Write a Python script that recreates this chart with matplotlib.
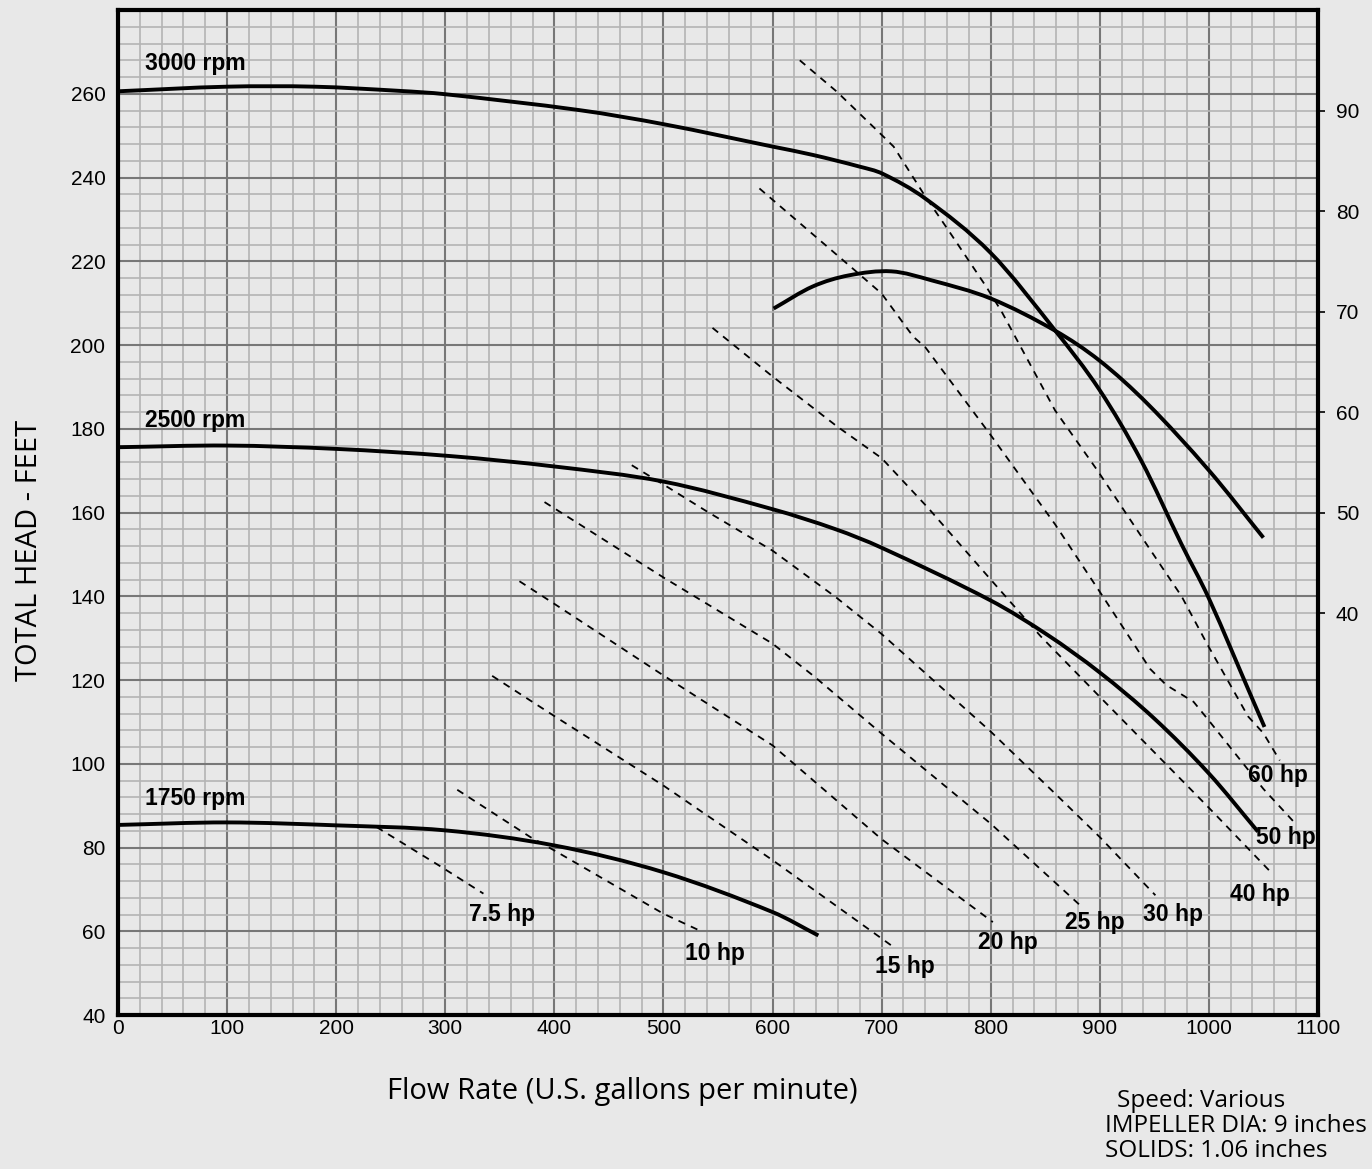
import matplotlib
matplotlib.use("Agg")
import matplotlib.pyplot as plt
from matplotlib.path import Path
from matplotlib.patches import PathPatch
from matplotlib.ticker import MultipleLocator, FixedLocator

# head curves (gpm, feet)
rpm3000_q = [0, 100, 180, 258, 300, 423, 501, 600, 637, 680, 701, 740, 800, 859, 900, 938, 975, 1000, 1041, 1051]
rpm3000_h = [260.6, 261.7, 261.7, 260.7, 259.9, 256.1, 252.7, 247.4, 245.4, 242.6, 240.9, 235.0, 222.0, 203.5, 189.2, 172.4, 152.4, 139.5, 114.8, 108.8]

rpm2500_q = [0, 100, 200, 304, 400, 500, 600, 658, 700, 800, 852, 900, 950, 1000, 1045]
rpm2500_h = [175.6, 176.0, 175.2, 173.5, 171.0, 167.4, 160.8, 156.0, 151.6, 139.0, 130.8, 121.8, 110.8, 97.7, 83.8]

rpm1750_q = [0, 100, 200, 300, 400, 500, 600, 642]
rpm1750_h = [85.4, 86.0, 85.3, 84.1, 80.5, 74.1, 64.6, 59.0]

# efficiency (right axis, %)
eff_q = [601, 637, 670, 709, 746, 800, 859, 900, 944, 1000, 1050]
eff_pct = [70.3, 72.5, 73.6, 74.0, 73.1, 71.3, 68.1, 65.1, 60.8, 54.2, 47.5]

# horsepower lines
hp_lines = {
    "7.5 hp": ([237, 295, 335], [84.9, 75.6, 69.0]),
    "10 hp": ([311, 378, 400, 500, 533], [93.8, 82.5, 79.3, 64.2, 60.2]),
    "15 hp": ([343, 400, 500, 600, 709], [121.0, 111.4, 94.8, 77.0, 56.6]),
    "20 hp": ([368, 400, 500, 600, 700, 802], [143.6, 138.2, 121.1, 104.4, 82.0, 62.2]),
    "25 hp": ([391, 500, 600, 639, 700, 800, 882], [162.5, 144.5, 128.7, 120.7, 107.2, 85.7, 66.2]),
    "30 hp": ([471, 500, 539, 600, 658, 700, 800, 859, 900, 951],
              [171.3, 166.7, 160.4, 150.9, 139.8, 131.0, 107.7, 92.9, 82.5, 68.6]),
    "40 hp": ([545, 600, 659, 700, 743, 800, 846, 900, 1000, 1058],
              [204.1, 192.5, 180.6, 173.0, 161.0, 144.0, 130.4, 116.0, 89.5, 73.8]),
    "50 hp": ([588, 677, 700, 729, 740, 800, 859, 904, 946, 961, 986, 1001, 1050, 1078],
              [237.4, 217.5, 212.3, 202.0, 199.5, 178.5, 157.2, 139.5, 122.7, 118.8, 114.8, 110.0, 94.0, 86.1]),
    "60 hp": ([625, 659, 700, 711, 740, 761, 796, 810, 859, 898, 944, 975, 998, 1036, 1050, 1065],
              [268.0, 260.5, 250.2, 247.4, 235.5, 227.5, 213.9, 208.0, 184.4, 170.0, 152.0, 140.0, 128.8, 111.3, 107.3, 100.8]),
}

# label anchors (left edge, centre)
rpm_labels = [("3000 rpm", 25, 267.2), ("2500 rpm", 25, 181.9), ("1750 rpm", 25, 91.6)]
hp_label_pos = {
    "7.5 hp": (322, 64.1), "10 hp": (520, 54.6), "15 hp": (694, 51.5),
    "20 hp": (788, 57.4), "25 hp": (868, 62.0), "30 hp": (940, 63.9),
    "40 hp": (1019, 68.9), "50 hp": (1043, 82.3), "60 hp": (1036, 97.3),
}
notes = ["Speed: Various", "IMPELLER DIA: 9 inches", "SOLIDS: 1.06 inches"]

bg = "#e8e8e8"
helv = ["Liberation Sans", "DejaVu Sans"]
opens = ["Open Sans", "DejaVu Sans"]


def smooth_curve(axis, xs, ys):
    # cubic hermite bezier through the read points (x increasing)
    n = len(xs)
    slopes = []
    for i in range(n):
        a = max(i - 1, 0)
        b = min(i + 1, n - 1)
        slopes.append((ys[b] - ys[a]) / (xs[b] - xs[a]))
    verts = [(xs[0], ys[0])]
    codes = [Path.MOVETO]
    for i in range(n - 1):
        dx = (xs[i + 1] - xs[i]) / 3
        verts += [(xs[i] + dx, ys[i] + slopes[i] * dx),
                  (xs[i + 1] - dx, ys[i + 1] - slopes[i + 1] * dx),
                  (xs[i + 1], ys[i + 1])]
        codes += [Path.CURVE4] * 3
    patch = PathPatch(Path(verts, codes), facecolor="none", edgecolor="black",
                      lw=2.8, capstyle="butt", transform=axis.transData)
    axis.add_patch(patch)


fig = plt.figure(figsize=(13.72, 11.69), dpi=100, facecolor=bg)
ax = fig.add_axes([0.086, 0.1317, 0.8746, 0.8597])
ax.set_facecolor(bg)

ax.set_xlim(0, 1100)
ax.set_ylim(40, 280)
ax.xaxis.set_major_locator(MultipleLocator(100))
ax.xaxis.set_minor_locator(MultipleLocator(20))
ax.yaxis.set_major_locator(FixedLocator(list(range(40, 261, 20))))
ax.yaxis.set_minor_locator(MultipleLocator(4))
ax.grid(which="minor", color="#b4b4b4", linewidth=1.2)
ax.grid(which="major", color="#777777", linewidth=1.5)
ax.set_axisbelow(True)
ax.tick_params(which="both", length=0)
ax.tick_params(axis="y", pad=9, labelsize=15)
ax.tick_params(axis="x", pad=3, labelsize=15)
for lab in ax.get_xticklabels() + ax.get_yticklabels():
    lab.set_family(helv)
for sp in ax.spines.values():
    sp.set_linewidth(3)
    sp.set_color("black")

ax2 = ax.twinx()
ax2.set_ylim(0, 100)
ax2.set_yticks([40, 50, 60, 70, 80, 90])
ax2.tick_params(axis="y", length=5, width=1.2, pad=8, labelsize=15)
for lab in ax2.get_yticklabels():
    lab.set_family(helv)
for sp in ax2.spines.values():
    sp.set_visible(False)

smooth_curve(ax, rpm3000_q, rpm3000_h)
smooth_curve(ax, rpm2500_q, rpm2500_h)
smooth_curve(ax, rpm1750_q, rpm1750_h)
smooth_curve(ax2, eff_q, eff_pct)

for name, (q, h) in hp_lines.items():
    ax.plot(q, h, color="black", lw=1.3, linestyle=(0, (4, 3.5)))
    lx, ly = hp_label_pos[name]
    ax.text(lx, ly, name, ha="left", va="center", fontsize=16.5,
            fontweight="bold", family=helv)

for name, lx, ly in rpm_labels:
    ax.text(lx, ly, name, ha="left", va="center", fontsize=16.5,
            fontweight="bold", family=helv)

fig.text(30 / 1372, 1 - 550 / 1169, "TOTAL HEAD - FEET", rotation=90,
         ha="center", va="center", fontsize=21, family=opens)
fig.text(622 / 1372, 1 - 1092 / 1169, "Flow Rate (U.S. gallons per minute)",
         ha="center", va="center", fontsize=21, family=opens)
fig.text(1117 / 1372, 1 - 1101 / 1169, notes[0], ha="left", va="center",
         fontsize=17.5, family=opens)
fig.text(1105 / 1372, 1 - 1126 / 1169, notes[1], ha="left", va="center",
         fontsize=17.5, family=opens)
fig.text(1105 / 1372, 1 - 1151 / 1169, notes[2], ha="left", va="center",
         fontsize=17.5, family=opens)

fig.savefig("out.png", dpi=100, facecolor=bg)
